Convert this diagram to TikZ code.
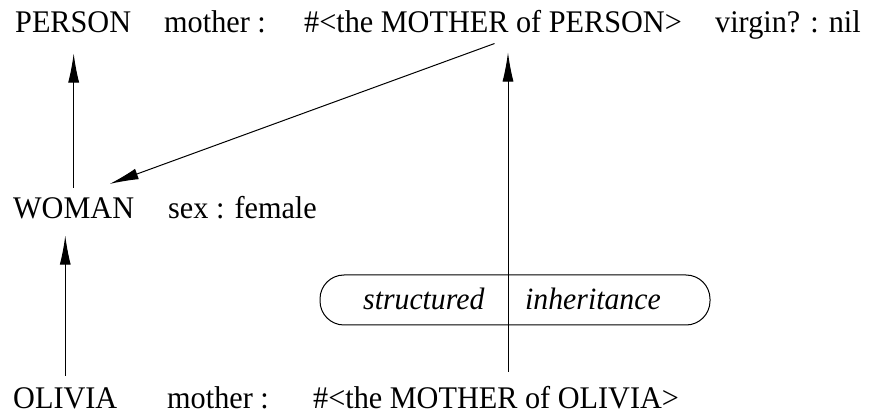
\documentclass[tikz,border=0pt]{standalone}
\usepackage{fontspec}
\setmainfont[FakeStretch=0.96]{Liberation Serif}
\usetikzlibrary{arrows.meta,calc}
\begin{document}
\begin{tikzpicture}[x=1pt,y=-1pt,
  lbl/.style={anchor=base west, inner sep=0pt, font=\fontsize{31.5}{36}\selectfont},
  ilbl/.style={anchor=base west, inner sep=0pt, font=\fontsize{31}{36}\selectfont\itshape},
  arr/.style={line width=1pt, -{Latex[length=29pt,width=11pt]}},
  pill/.style={draw, line width=1pt, rounded corners=24pt, minimum width=390pt, minimum height=50pt, inner sep=0pt}]
\useasboundingbox (0,0) rectangle (871,414);
% top row
\node[lbl] (person) at (15,33) {PERSON};
\node[lbl] (mo1) at (164,33) {mother :};
\node[lbl] (mp) at (304,33) {\#<the MOTHER of PERSON>};
\node[lbl] (vir) at (715,33) {virgin? : nil};
% middle row
\node[lbl] (woman) at (13,219) {WOMAN};
\node[lbl] (sex) at (168,219) {sex : female};
% bottom row
\node[lbl] (olivia) at (13,408) {OLIVIA};
\node[lbl] (mo2) at (167,408) {mother :};
\node[lbl] (mo) at (313,408) {\#<the MOTHER of OLIVIA>};
% pill
\node[pill] (box) at (515,300) {};
\node[ilbl] (st) at (363,310) {structured};
\node[ilbl] (inh) at (525,310) {inheritance};
\coordinate (vx) at (508,0);
% connectors
\draw[arr] ([yshift=10pt]woman.north) -- ([yshift=-20pt]woman.north |- person.south);
\draw[arr] ([yshift=11pt]olivia.north) -- ([yshift=-16pt]olivia.north |- woman.south);
\draw[arr] ([yshift=14pt]mo.north -| vx) -- ([yshift=-19pt]mp.south -| vx);
\draw[arr] ([xshift=1.5pt,yshift=-10pt]mp.south) -- ([xshift=36pt,yshift=14pt]woman.north);
\end{tikzpicture}
\end{document}
